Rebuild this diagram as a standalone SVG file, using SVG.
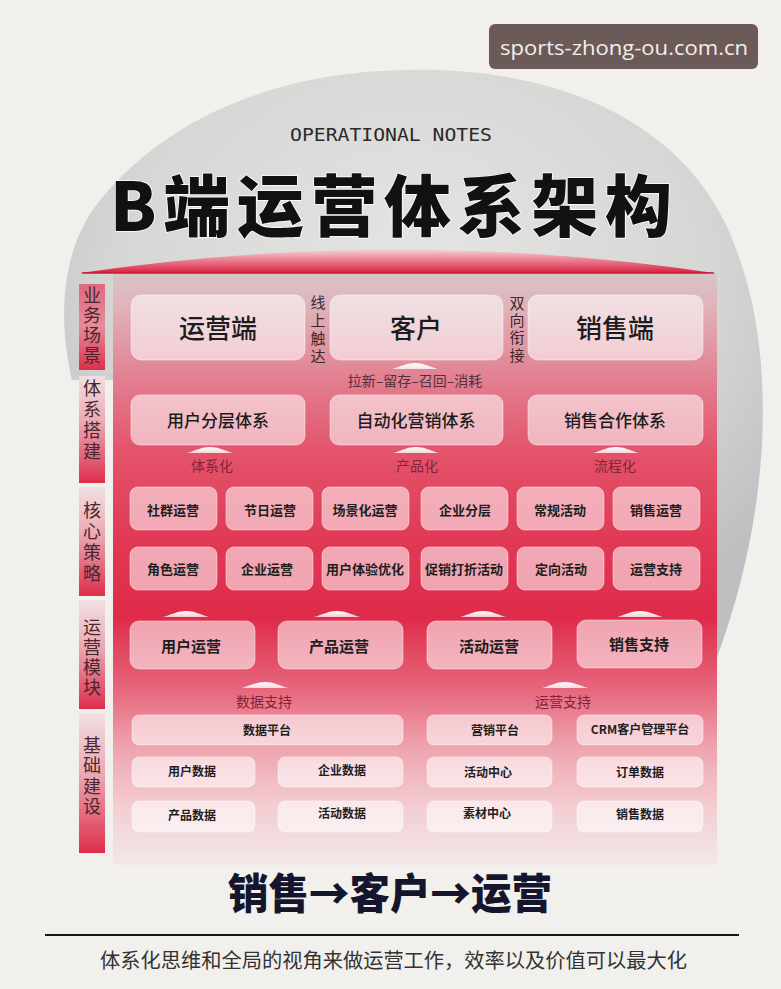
<svg xmlns="http://www.w3.org/2000/svg" width="781" height="989" viewBox="0 0 781 989">
<style>
text{font-family:"Noto Sans CJK SC","Noto Sans",sans-serif;}
.box{fill:#ffffff;fill-opacity:0.56;stroke:#ffffff;stroke-opacity:0.45;stroke-width:1;}
.t1{font-size:26px;font-weight:500;fill:#1c1c1c;text-anchor:middle;}
.t2{font-size:17px;font-weight:500;fill:#1c1c1c;text-anchor:middle;}
.t3{font-size:13px;font-weight:700;fill:#1e1e1e;text-anchor:middle;}
.t5{font-size:15px;font-weight:700;fill:#1e1e1e;text-anchor:middle;}
.t6{font-size:12px;font-weight:700;fill:#1e1e1e;text-anchor:middle;}
.lab{font-size:14px;fill:#862236;text-anchor:middle;}
.side{font-size:18px;fill:#4a262d;writing-mode:vertical-rl;}
.vt{font-size:15px;fill:#3a2a2e;writing-mode:vertical-rl;}
.bar{fill:url(#barG);}
</style>
<defs>
<radialGradient id="circG" cx="50%" cy="35%" r="65%">
<stop offset="0" stop-color="#e5e5e3"/>
<stop offset="0.65" stop-color="#d6d6d5"/>
<stop offset="1" stop-color="#bdbfc1"/>
</radialGradient>
<linearGradient id="panelG" x1="0" y1="0" x2="0" y2="1">
<stop offset="0" stop-color="#d8c5c8"/>
<stop offset="0.06" stop-color="#e0b1b9"/>
<stop offset="0.18" stop-color="#e27f90"/>
<stop offset="0.3" stop-color="#e3546b"/>
<stop offset="0.45" stop-color="#e13955"/>
<stop offset="0.58" stop-color="#de2b49"/>
<stop offset="0.7" stop-color="#e6657b"/>
<stop offset="0.8" stop-color="#eea3ae"/>
<stop offset="0.9" stop-color="#f3cdd2"/>
<stop offset="1" stop-color="#f2e8e8"/>
</linearGradient>
<linearGradient id="ribG" x1="0" y1="0" x2="0" y2="1">
<stop offset="0" stop-color="#f3d2d7"/>
<stop offset="0.5" stop-color="#e9788a"/>
<stop offset="1" stop-color="#d8213f"/>
</linearGradient>
<linearGradient id="barG" x1="0" y1="0" x2="0" y2="1">
<stop offset="0" stop-color="#f1e0e2"/>
<stop offset="0.45" stop-color="#eaa6b1"/>
<stop offset="1" stop-color="#dd2d4b"/>
</linearGradient>
<linearGradient id="bar1G" x1="0" y1="0" x2="0" y2="1">
<stop offset="0" stop-color="#df6a7e"/>
<stop offset="0.5" stop-color="#e68b9a"/>
<stop offset="1" stop-color="#dc2f4c"/>
</linearGradient>
<linearGradient id="arrG" x1="0" y1="0" x2="0" y2="1">
<stop offset="0" stop-color="#ffffff" stop-opacity="1"/>
<stop offset="1" stop-color="#ffffff" stop-opacity="0.75"/>
</linearGradient>
<path id="arr" d="M-23,6 C-13,3 -8,0 0,0 C8,0 13,3 23,6 Z" fill="url(#arrG)"/>
</defs>

<rect x="0" y="0" width="781" height="989" fill="#f1f0ec"/>

<g id="backdrop">
<path d="M72,380 C58,320 60,250 100,200 C170,115 280,72 405,70 C570,66 700,130 740,260 C775,360 772,510 716,660 L716,380 Z" fill="url(#circG)"/>
</g>

<g id="watermark">
<rect x="489" y="24" width="269" height="45" rx="6" fill="#6c5a58"/>
<text x="500" y="55" font-size="20" fill="#f3eeee" textLength="248" lengthAdjust="spacingAndGlyphs" style="font-family:'Open Sans','Noto Sans',sans-serif;">sports-zhong-ou.com.cn</text>
</g>

<g id="title">
<text x="290" y="141" font-size="18" fill="#2a2a2a" textLength="202" lengthAdjust="spacingAndGlyphs" style="font-family:'DejaVu Sans Mono','Liberation Mono',monospace;">OPERATIONAL NOTES</text>
<text x="110" y="231" font-size="67" font-weight="900" fill="#111111" stroke="#ffffff" stroke-width="1.5" paint-order="stroke" textLength="562" lengthAdjust="spacing">B端运营体系架构</text>
</g>

<g id="panel">
<rect x="113" y="273" width="604" height="592" rx="4" fill="url(#panelG)"/>
<path d="M80,273 Q398,226 714,273 Z" fill="url(#ribG)"/>
<line x1="82" y1="273" x2="714" y2="273" stroke="#c81c38" stroke-width="1.5"/>
</g>

<g id="sidebar">
<g id="side-1"><rect x="79" y="284" width="26" height="86" fill="url(#bar1G)"/>
<text class="side" x="92" y="286" letter-spacing="2">业务场景</text></g>
<g id="side-2"><rect x="79" y="376" width="26" height="107" class="bar"/>
<text class="side" x="92" y="379" letter-spacing="3">体系搭建</text></g>
<g id="side-3"><rect x="79" y="487" width="26" height="109" class="bar"/>
<text class="side" x="92" y="501" letter-spacing="3">核心策略</text></g>
<g id="side-4"><rect x="79" y="600" width="26" height="109" class="bar"/>
<text class="side" x="92" y="618" letter-spacing="2">运营模块</text></g>
<g id="side-5"><rect x="79" y="713" width="26" height="140" class="bar"/>
<text class="side" x="92" y="736" letter-spacing="2.4">基础建设</text></g>
</g>

<g id="connectors">
<use href="#arr" x="415" y="363"/>
<use href="#arr" x="210" y="447"/>
<use href="#arr" x="416" y="447"/>
<use href="#arr" x="616" y="447"/>
<use href="#arr" x="186" y="611"/>
<use href="#arr" x="337" y="611"/>
<use href="#arr" x="483" y="611"/>
<use href="#arr" x="640" y="611"/>
<use href="#arr" x="265" y="682"/>
<use href="#arr" x="565" y="682"/>
<text x="415" y="385.5" font-size="14" fill="#55303a" text-anchor="middle">拉新–留存–召回–消耗</text>
<text class="vt" x="318" y="294.5" letter-spacing="3">线上触达</text>
<text class="vt" x="517" y="295.5" letter-spacing="2.4">双向衔接</text>
<text class="lab" x="212" y="471">体系化</text>
<text class="lab" x="417" y="471">产品化</text>
<text class="lab" x="615" y="471">流程化</text>
<text class="lab" x="264" y="707">数据支持</text>
<text class="lab" x="563" y="707">运营支持</text>
</g>

<g id="n-yunyingduan"><rect class="box" x="131" y="295" width="174" height="65" rx="10"/><text class="t1" x="218" y="338">运营端</text></g>
<g id="n-kehu"><rect class="box" x="330" y="295" width="173" height="65" rx="10"/><text class="t1" x="416" y="338">客户</text></g>
<g id="n-xiaoshouduan"><rect class="box" x="528" y="295" width="175" height="65" rx="10"/><text class="t1" x="615" y="338">销售端</text></g>

<g id="n-yhfc"><rect class="box" x="131" y="395" width="174" height="50" rx="9"/><text class="t2" x="218" y="426.5">用户分层体系</text></g>
<g id="n-zdh"><rect class="box" x="330" y="395" width="173" height="50" rx="9"/><text class="t2" x="416" y="426.5">自动化营销体系</text></g>
<g id="n-xshz"><rect class="box" x="528" y="395" width="175" height="50" rx="9"/><text class="t2" x="615" y="426.5">销售合作体系</text></g>

<g id="n-sqyy"><rect class="box" x="130" y="487" width="87" height="43" rx="8"/><text class="t3" x="173" y="515">社群运营</text></g>
<g id="n-jryy"><rect class="box" x="226" y="487" width="87" height="43" rx="8"/><text class="t3" x="270" y="515">节日运营</text></g>
<g id="n-cjhyy"><rect class="box" x="322" y="487" width="87" height="43" rx="8"/><text class="t3" x="365" y="515">场景化运营</text></g>
<g id="n-qyfc"><rect class="box" x="421" y="487" width="87" height="43" rx="8"/><text class="t3" x="465" y="515">企业分层</text></g>
<g id="n-cghd"><rect class="box" x="517" y="487" width="87" height="43" rx="8"/><text class="t3" x="560" y="515">常规活动</text></g>
<g id="n-xsyy"><rect class="box" x="613" y="487" width="87" height="43" rx="8"/><text class="t3" x="656" y="515">销售运营</text></g>

<g id="n-jsyy"><rect class="box" x="130" y="547" width="87" height="43" rx="8"/><text class="t3" x="173" y="574">角色运营</text></g>
<g id="n-qyyy"><rect class="box" x="226" y="547" width="87" height="43" rx="8"/><text class="t3" x="267" y="574">企业运营</text></g>
<g id="n-yhty"><rect class="box" x="322" y="547" width="87" height="43" rx="8"/><text class="t3" x="365" y="574">用户体验优化</text></g>
<g id="n-cxdz"><rect class="box" x="421" y="547" width="87" height="43" rx="8"/><text class="t3" x="464" y="574">促销打折活动</text></g>
<g id="n-dxhd"><rect class="box" x="517" y="547" width="87" height="43" rx="8"/><text class="t3" x="561" y="574">定向活动</text></g>
<g id="n-yyzc"><rect class="box" x="613" y="547" width="87" height="43" rx="8"/><text class="t3" x="656" y="574">运营支持</text></g>

<g id="n-yhyy"><rect class="box" x="130" y="621" width="125" height="48" rx="9"/><text class="t5" x="191" y="651.5">用户运营</text></g>
<g id="n-cpyy"><rect class="box" x="278" y="621" width="125" height="48" rx="9"/><text class="t5" x="339" y="651.5">产品运营</text></g>
<g id="n-hdyy"><rect class="box" x="427" y="621" width="125" height="48" rx="9"/><text class="t5" x="489" y="651.5">活动运营</text></g>
<g id="n-xszc"><rect class="box" x="577" y="620" width="125" height="48" rx="9"/><text class="t5" x="639" y="649.5">销售支持</text></g>

<g id="n-sjpt"><rect class="box" x="132" y="715" width="271" height="30" rx="7"/><text class="t6" x="267" y="734.5">数据平台</text></g>
<g id="n-yxpt"><rect class="box" x="427" y="715" width="125" height="30" rx="7"/><text class="t6" x="495" y="734.5">营销平台</text></g>
<g id="n-crm"><rect class="box" x="577" y="715" width="126" height="30" rx="7"/><text class="t6" x="640" y="734">CRM客户管理平台</text></g>
<g id="n-yhsj"><rect class="box" x="132" y="757" width="123" height="30" rx="7"/><text class="t6" x="192" y="775.5">用户数据</text></g>
<g id="n-qysj"><rect class="box" x="278" y="757" width="125" height="30" rx="7"/><text class="t6" x="342" y="775">企业数据</text></g>
<g id="n-hdzx"><rect class="box" x="427" y="757" width="125" height="30" rx="7"/><text class="t6" x="488" y="776.5">活动中心</text></g>
<g id="n-ddsj"><rect class="box" x="577" y="757" width="126" height="30" rx="7"/><text class="t6" x="640" y="776.5">订单数据</text></g>
<g id="n-cpsj"><rect class="box" x="132" y="801" width="123" height="31" rx="7"/><text class="t6" x="192" y="819.5">产品数据</text></g>
<g id="n-hdsj"><rect class="box" x="278" y="801" width="125" height="31" rx="7"/><text class="t6" x="342" y="817.5">活动数据</text></g>
<g id="n-sczx"><rect class="box" x="427" y="801" width="125" height="31" rx="7"/><text class="t6" x="487" y="817.5">素材中心</text></g>
<g id="n-xssj"><rect class="box" x="577" y="801" width="126" height="31" rx="7"/><text class="t6" x="640" y="818.5">销售数据</text></g>

<g id="footer">
<text x="228" y="909" font-size="42" font-weight="900" fill="#15152e" textLength="324" lengthAdjust="spacingAndGlyphs">销售→客户→运营</text>
<line x1="45" y1="935" x2="739" y2="935" stroke="#151515" stroke-width="2"/>
<text x="100" y="968" font-size="20" fill="#333333" textLength="587" lengthAdjust="spacingAndGlyphs">体系化思维和全局的视角来做运营工作，效率以及价值可以最大化</text>
</g>
</svg>
